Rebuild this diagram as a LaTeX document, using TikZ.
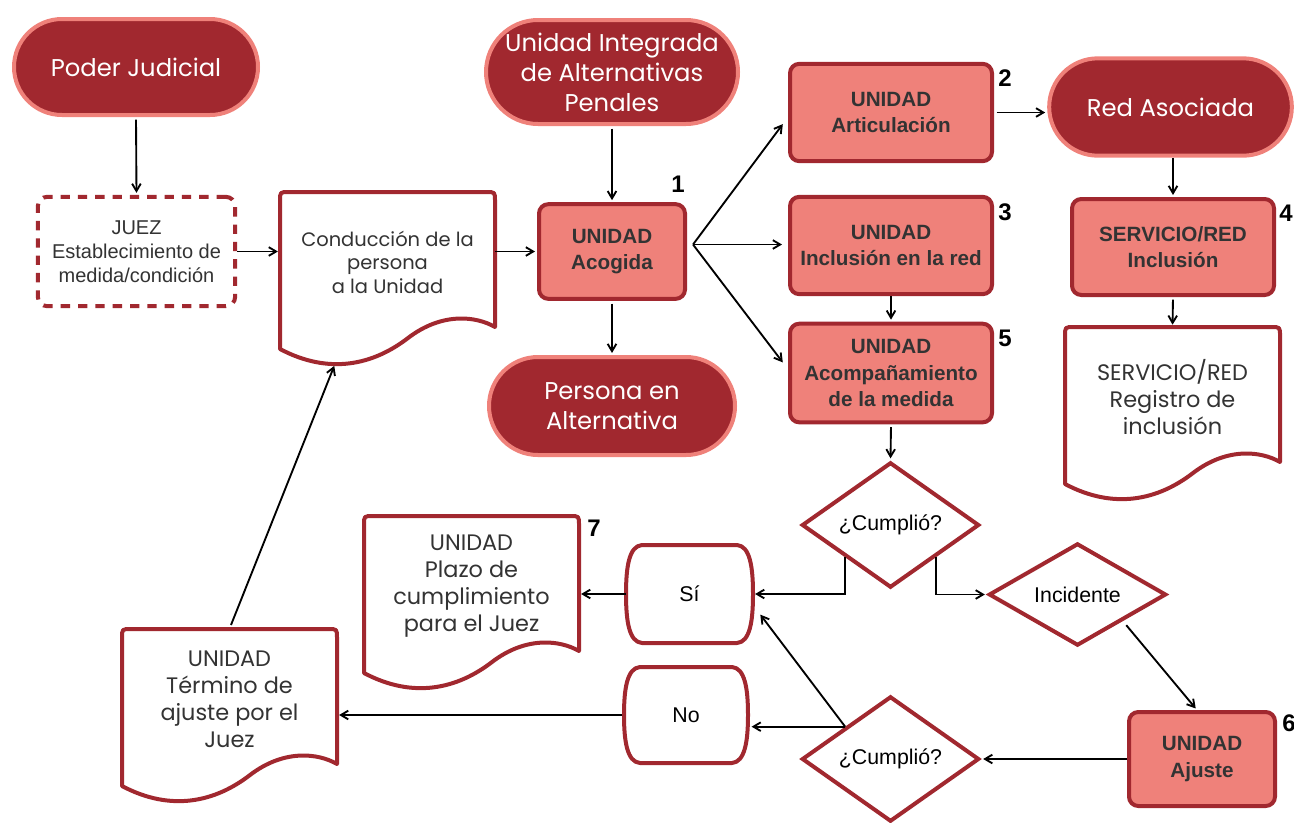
\documentclass[tikz,border=0pt]{standalone}
\usepackage{fontspec}
\setmainfont{Liberation Sans}
\newfontfamily\montf{Poppins}
\usetikzlibrary{shapes.geometric,shapes.misc,arrows.meta,calc}
\definecolor{dred}{RGB}{161,40,47}
\definecolor{salm}{RGB}{239,129,122}
\definecolor{txtc}{RGB}{51,51,51}
\newcommand\docpath[2]{%
  \path[docline] (#1,#2+157) -- (#1,#2+9) .. controls (#1,#2) and (#1,#2) .. (#1+9,#2) -- (#1+206,#2) .. controls (#1+215,#2) and (#1+215,#2) .. (#1+215,#2+9) -- (#1+215,#2+135) .. controls (#1+196,#2+124) and (#1+162,#2+120) .. (#1+128,#2+146) .. controls (#1+93,#2+173) and (#1+49,#2+183) .. (#1,#2+157) -- cycle;}
\newcommand\pillpath[4]{%
  \path[docline] (#1+16,#3) -- (#2-16,#3) .. controls (#2-3,#3+1) and (#2,#3+22) .. (#2,{(#3+#4)/2}) .. controls (#2,#4-22) and (#2-3,#4-1) .. (#2-16,#4) -- (#1+16,#4) .. controls (#1+3,#4-1) and (#1,#4-22) .. (#1,{(#3+#4)/2}) .. controls (#1,#3+22) and (#1+3,#3+1) .. (#1+16,#3) -- cycle;}
\begin{document}
\begin{tikzpicture}[x=0.75pt,y=-0.75pt,
  arr/.style={-{Straight Barb[length=5.5pt,width=6.5pt]},line width=1.4pt,shorten >=1.5pt},
  termnode/.style={rounded rectangle, fill=dred, draw=salm, line width=3pt, text=white, font=\montf\fontsize{18.2}{22.5}\selectfont, align=center, inner sep=0pt},
  boxnode/.style={rectangle, rounded corners=7pt, fill=salm, draw=dred, line width=3pt, text=txtc, font=\bfseries\fontsize{15.5}{20}\selectfont, align=center, inner sep=0pt},
  juezbox/.style={rectangle, rounded corners=7pt, draw=dred, dash pattern=on 7pt off 6pt, line width=3pt, fill=white, text=txtc, font=\fontsize{15}{18}\selectfont, align=center, minimum width=148pt, minimum height=82pt, inner sep=0pt},
  docnode/.style={rectangle, minimum width=161pt, minimum height=105pt, text=txtc, font=\montf\fontsize{16.8}{20.3}\selectfont, align=center, inner sep=0pt},
  docline/.style={draw=dred, line width=3pt, fill=white, line join=round},
  dia/.style={diamond, draw=dred, line width=3pt, fill=white, text=black, font=\fontsize{16}{19}\selectfont, inner sep=0pt},
  pillnode/.style={rectangle, minimum width=95pt, minimum height=73.5pt, text=black, font=\fontsize{16}{19}\selectfont, inner sep=0pt},
  numl/.style={font=\bfseries\fontsize{18}{20}\selectfont, text=black, inner sep=0pt}
]
\useasboundingbox (0,0) rectangle (1294,822);
% outlines of documents and pills
\docpath{280}{192}
\docpath{1065}{327}
\docpath{364}{516}
\docpath{122}{629}
\pillpath{626}{753}{545}{643}
\pillpath{624}{748}{667}{763}
% terminals
\node[termnode, minimum width=183pt, minimum height=72pt] (pj) at (136,67) {Poder Judicial};
\node[termnode, minimum width=189pt, minimum height=78pt] (uiap) at (612,72) {Unidad Integrada\\de Alternativas\\Penales};
\node[termnode, minimum width=184.5pt, minimum height=73.5pt] (pers) at (612,406) {Persona en\\Alternativa};
\node[termnode, minimum width=182pt, minimum height=73pt] (red) at (1170.5,107) {Red Asociada};
% juez
\node[juezbox] (juez) at (136.5,251.5) {JUEZ\\Establecimiento de\\medida/condición};
% documents
\node[docnode, font=\montf\fontsize{14.6}{17.6}\selectfont] (cond) at (387.5,262) {Conducción de la\\persona\\a la Unidad};
\node[docnode] (reg) at (1172.5,397) {SERVICIO/RED\\Registro de\\inclusión};
\node[docnode] (plazo) at (471.5,586) {UNIDAD\\Plazo de\\cumplimiento\\para el Juez};
\node[docnode] (term) at (229.5,699) {UNIDAD\\Término de\\ajuste por el\\Juez};
\coordinate (condw) at (335,364);
% process boxes
\node[boxnode, minimum width=109.5pt, minimum height=71pt] (acog) at (612,251.5) {UNIDAD\\Acogida};
\node[boxnode, minimum width=151.5pt, minimum height=73pt] (art) at (891,112.5) {UNIDAD\\Articulación};
\node[boxnode, minimum width=151.5pt, minimum height=73pt] (incl) at (891,245.5) {UNIDAD\\Inclusión en la red};
\node[boxnode, minimum width=151.5pt, minimum height=74pt] (acomp) at (891,373) {UNIDAD\\Acompañamiento\\de la medida};
\node[boxnode, minimum width=151.5pt, minimum height=72pt] (serv) at (1173,247) {SERVICIO/RED\\Inclusión};
\node[boxnode, minimum width=109.5pt, minimum height=70.5pt] (ajus) at (1202,759) {UNIDAD\\Ajuste};
% decisions
\node[dia, minimum width=133pt, minimum height=94pt] (c1) at (890.5,525) {¿Cumplió?};
\node[dia, minimum width=133pt, minimum height=94pt] (c2) at (890.5,759) {¿Cumplió?};
\node[dia, minimum width=133pt, minimum height=70pt] (inc) at (1077.5,594.5) {Incidente};
% yes / no
\node[pillnode] (si) at (689.5,594) {Sí};
\node[pillnode] (no) at (686,715) {No};
% step numbers
\node[numl] (n1) at (678,184) {1};
\node[numl] (n2) at (1005,78) {2};
\node[numl] (n3) at (1005,212) {3};
\node[numl] (n4) at (1286,213) {4};
\node[numl] (n5) at (1005,338) {5};
\node[numl] (n6) at (1289,723) {6};
\node[numl] (n7) at (594,528) {7};
% connectors
\draw[arr, shorten <=2pt] (pj.south) -- (juez.north);
\draw[arr] (juez.east) -- (juez.east -| cond.west);
\draw[arr] (cond.east |- acog.west) -- (acog.west);
\draw[arr, shorten <=2pt] (uiap.south) -- (acog.north);
\draw[arr, shorten <=2pt] (acog.south) -- (pers.north);
\coordinate (fan) at ($(acog.east)+(6,-7)$);
\draw[arr] (fan) -- ($(art.west)+(-4,10)$);
\draw[arr] (fan) -- ($(incl.west)+(-4,-1)$);
\draw[arr] (fan) -- ($(acomp.west)+(-4,-9)$);
\draw[arr, shorten <=2pt] (art.east) -- (art.east -| red.west);
\draw[arr] (serv.north |- red.south) -- (serv.north);
\draw[arr, shorten <=2pt] (serv.south) -- (reg.north);
\draw[arr] (incl.south) -- (acomp.north);
\draw[arr, shorten <=2pt] (acomp.south) -- (c1.north);
\draw[arr] (c1.south west) |- (si.east);
\draw[arr] (c1.south east) |- (inc.west);
\draw[arr] (si.west) -- (si.west -| plazo.east);
\draw[arr, shorten <=4pt] (inc.south east) -- ($(ajus.north)+(-5,0)$);
\draw[arr] (ajus.west) -- (c2.east);
\draw[arr] (c2.north west) -- (c2.north west -| no.east);
\draw[arr] (c2.north west) -- ($(si.east)+(6,19)$);
\draw[arr] (no.west) -- (no.west -| term.east);
\draw[arr, shorten <=3pt] (term.north) -- (condw);
\end{tikzpicture}
\end{document}
